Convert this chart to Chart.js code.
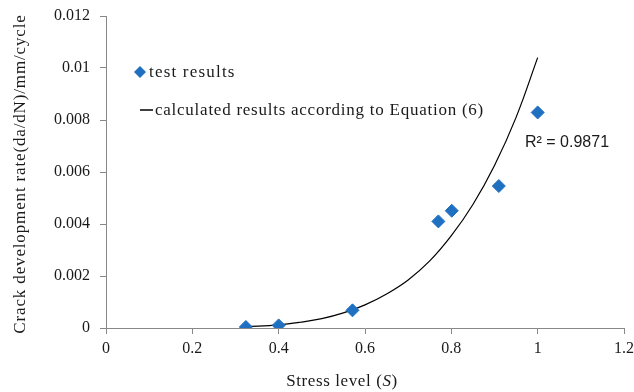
<!DOCTYPE html>
<html lang="en">
<head>
    <meta charset="UTF-8" />
    <title>Crack development rate vs stress level</title>
    <script src="https://cdn.jsdelivr.net/npm/chart.js"></script>
    <style>
        body {
            margin: 0;
            padding: 0;
            background: #ffffff;
        }
        .chart-container {
            position: relative;
            width: 634px;
            height: 392px;
        }
    </style>
</head>
<body>
    <div class="chart-container">
        <canvas id="myChart" width="634" height="392"></canvas>
    </div>

    <script>
        // test results
        const stressTest = [0.324, 0.4, 0.571, 0.77, 0.801, 0.91, 1.0];
        const rateTest = [0.00004, 0.0001, 0.00068, 0.0041, 0.00451, 0.00546, 0.00829];

        // calculated curve, Equation (6)
        const stressCalc = [0.325, 0.4, 0.45, 0.5, 0.55, 0.6, 0.65, 0.7, 0.75, 0.8, 0.85, 0.9, 0.95, 1.0];
        const rateCalc = [0.00005, 0.00012, 0.00022, 0.00036, 0.00058, 0.00089, 0.00131, 0.00185, 0.00258, 0.00355, 0.00475, 0.00625, 0.0081, 0.0104];

        const xTickLabels = ["0", "0.2", "0.4", "0.6", "0.8", "1", "1.2"];
        const yTickLabels = ["0", "0.002", "0.004", "0.006", "0.008", "0.01", "0.012"];

        const rSquared = "R\u00B2 = 0.9871";
        const legendLabels = ["test results", "calculated results according to Equation (6)"];

        const blue = "#1f70c1";
        const axisGray = "#888888";
        const serif = "'Liberation Serif', 'DejaVu Serif', serif";

        // legend, R² text and axis titles drawn by hand
        const annotations = {
            id: "annotations",
            afterDraw(chart) {
                const ctx = chart.ctx;
                ctx.save();
                ctx.textBaseline = "middle";

                // legend
                ctx.fillStyle = blue;
                ctx.beginPath();
                ctx.moveTo(140, 66);
                ctx.lineTo(146, 72);
                ctx.lineTo(140, 78);
                ctx.lineTo(134, 72);
                ctx.closePath();
                ctx.fill();

                ctx.strokeStyle = "#000";
                ctx.lineWidth = 1.5;
                ctx.beginPath();
                ctx.moveTo(140, 110);
                ctx.lineTo(153, 110);
                ctx.stroke();

                ctx.fillStyle = "#1a1a1a";
                ctx.font = "17px " + serif;
                ctx.textAlign = "left";
                ctx.letterSpacing = "1.2px";
                ctx.fillText(legendLabels[0], 149, 73);
                ctx.letterSpacing = "0.75px";
                ctx.fillText(legendLabels[1], 155, 111);

                // R squared
                ctx.letterSpacing = "0px";
                ctx.font = "16px 'Liberation Sans', Arial, sans-serif";
                ctx.fillText(rSquared, 525, 143);

                // x title with italic S
                ctx.letterSpacing = "0.6px";
                const part1 = "Stress level (";
                const part3 = ")";
                ctx.font = "17px " + serif;
                const w1 = ctx.measureText(part1).width;
                ctx.font = "italic 17px " + serif;
                const w2 = ctx.measureText("S").width;
                ctx.font = "17px " + serif;
                const w3 = ctx.measureText(part3).width;
                let x = 342 - (w1 + w2 + w3) / 2;
                ctx.fillText(part1, x, 382);
                ctx.font = "italic 17px " + serif;
                ctx.fillText("S", x + w1, 382);
                ctx.font = "17px " + serif;
                ctx.fillText(part3, x + w1 + w2, 382);

                // y title
                ctx.letterSpacing = "0.85px";
                ctx.translate(21, 174);
                ctx.rotate(-Math.PI / 2);
                ctx.textAlign = "center";
                ctx.fillText("Crack development rate(da/dN)/mm/cycle", 0, 0);

                ctx.restore();
            }
        };

        const ctx = document.getElementById("myChart").getContext("2d");
        const myChart = new Chart(ctx, {
            type: "scatter",
            data: {
                datasets: [
                    {
                        label: legendLabels[1],
                        data: stressCalc.map((s, i) => ({ x: s, y: rateCalc[i] })),
                        showLine: true,
                        borderColor: "#000000",
                        borderWidth: 1.2,
                        pointRadius: 0,
                        tension: 0.4,
                        order: 2,
                    },
                    {
                        label: legendLabels[0],
                        data: stressTest.map((s, i) => ({ x: s, y: rateTest[i] })),
                        pointStyle: "rectRot",
                        pointRadius: 6.5,
                        backgroundColor: blue,
                        borderColor: blue,
                        borderWidth: 1,
                        order: 1,
                    },
                ],
            },
            options: {
                responsive: false,
                animation: false,
                layout: {
                    padding: { left: 0, top: 16, right: 10, bottom: 0 },
                },
                plugins: {
                    legend: { display: false },
                    tooltip: { enabled: false },
                },
                scales: {
                    x: {
                        type: "linear",
                        min: 0,
                        max: 1.2,
                        afterFit: (scale) => {
                            scale.height = 64;
                            scale.paddingLeft = 0;
                            scale.paddingRight = 0;
                        },
                        grid: { drawOnChartArea: false, color: axisGray, tickLength: 6 },
                        border: { color: axisGray },
                        ticks: {
                            stepSize: 0.2,
                            padding: 5,
                            color: "#1a1a1a",
                            font: { family: serif, size: 16 },
                            maxRotation: 0,
                            callback: (v, i) => xTickLabels[i],
                        },
                    },
                    y: {
                        type: "linear",
                        min: 0,
                        max: 0.012,
                        afterFit: (scale) => {
                            scale.width = 106;
                            scale.paddingTop = 0;
                            scale.paddingBottom = 0;
                        },
                        grid: { drawOnChartArea: false, color: axisGray, tickLength: 6 },
                        border: { color: axisGray },
                        ticks: {
                            stepSize: 0.002,
                            padding: 10,
                            color: "#1a1a1a",
                            font: { family: serif, size: 16 },
                            callback: (v, i) => yTickLabels[i],
                        },
                    },
                },
            },
            plugins: [annotations],
        });
    </script>
</body>
</html>
